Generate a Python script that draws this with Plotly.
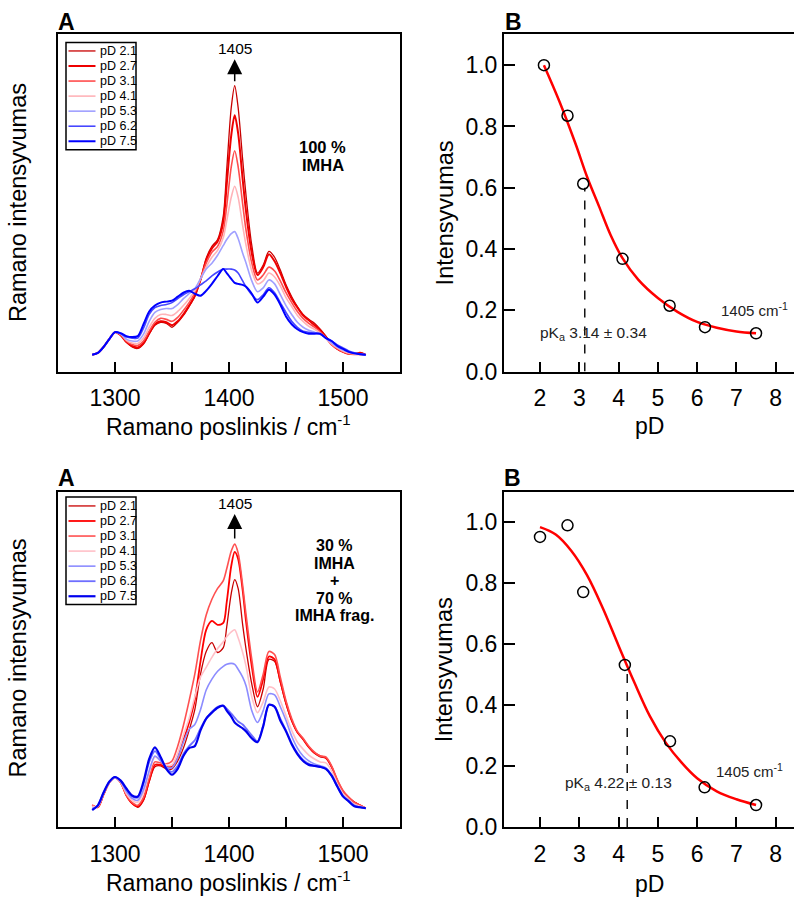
import plotly.graph_objects as go

# ---------------- DATA ----------------
WN = [1280, 1285, 1290, 1295, 1300, 1305, 1310, 1315, 1320, 1325, 1330, 1335, 1340, 1345, 1350,
      1355, 1360, 1365, 1370, 1375, 1380, 1385, 1390, 1395, 1398, 1402, 1405, 1408, 1412, 1415,
      1420, 1425, 1430, 1435, 1440, 1445, 1450, 1455, 1460, 1465, 1470, 1475, 1480, 1485, 1490,
      1495, 1500, 1505, 1510, 1515, 1520]

LABELS = ["pD 2.1", "pD 2.7", "pD 3.1", "pD 4.1", "pD 5.3", "pD 6.2", "pD 7.5"]
SPEC_TICKS = [1300, 1400, 1500]
PD_TICKS = [2, 3, 4, 5, 6, 7, 8]
INT_TICKS = [0, 0.2, 0.4, 0.6, 0.8, 1.0]

# Top panel (100 % IMHA), arbitrary intensity units
top_21 = [17, 19, 25, 33, 40, 37, 30, 25, 23.5, 28, 38, 47, 50, 49, 45, 50, 57, 66, 76, 93, 115, 127, 134, 158,
          205, 268, 290, 268, 215, 178, 128, 100, 108, 122, 116, 103, 88, 76, 66, 58, 53, 49, 43, 36, 28, 23, 20, 18, 18, 19, 17]
top_27 = [17, 19, 25, 33, 40, 37, 30, 26, 24.5, 29, 39, 48, 51, 50, 47, 51, 58, 67, 77, 93, 113, 125, 132, 152,
          190, 240, 260, 242, 195, 162, 120, 98, 106, 119, 112, 100, 86, 74, 65, 57, 52, 47, 42, 35, 28, 23, 20, 18, 18, 19, 17]
top_31 = [17, 19, 25, 33, 40, 37.5, 31, 27.5, 26.5, 31, 41, 50, 54, 53, 51, 55, 62, 70, 80, 94, 110, 121, 127, 143,
          168, 208, 224, 208, 170, 143, 110, 93, 98, 106, 102, 92, 80, 70, 61, 54, 49, 45, 40, 34, 27, 23, 20, 18, 17.5, 17.5, 17]
top_41 = [17, 19, 25, 33, 40, 38, 32, 29, 28.5, 34, 45, 54, 58, 58, 57, 61, 67, 74, 82, 94, 106, 116, 123, 136,
          153, 177, 188, 177, 148, 128, 102, 89, 92, 100, 96, 87, 75, 66, 57, 51, 46, 43, 39, 34, 28, 24, 21, 19, 18, 17.5, 17]
top_53 = [17, 19, 25, 33, 40, 38, 33, 31, 31, 38, 51, 60, 63, 64, 64, 68, 74, 79, 84, 94, 104, 110, 118, 128,
          134, 140, 142, 135, 120, 110, 92, 81, 85, 93, 89, 78, 67, 58, 50, 45, 42, 40, 38, 34, 29, 25, 22, 20, 18.5, 17.5, 17]
top_62 = [17, 19, 25, 33, 40, 38.5, 35, 34, 34, 44, 58, 65, 67, 68, 70, 74, 78, 81, 84, 88, 92, 97, 101, 104,
          104, 104, 103, 100, 92, 86, 78, 73, 78, 85, 80, 70, 60, 51, 45, 41, 40, 39, 38, 34, 31, 27, 24, 21, 19, 18, 17]
top_75 = [17, 19, 25, 33, 40, 39, 36, 35, 36, 48, 61, 67, 70, 71, 72, 76, 80, 82, 79, 77, 82, 89, 97, 104,
          100, 94, 90, 89, 88, 86, 79, 70, 76, 83, 78, 68, 56, 48, 43, 40, 38.5, 38.5, 38.5, 34, 31, 26, 23, 20, 18.5, 17.5, 17]

# Bottom panel (30 % IMHA + 70 % IMHA frag.)
bot_21 = [22, 20, 33, 45, 50, 45, 32, 24, 20, 27, 46, 61, 62, 59, 59, 67, 80, 98, 119, 155, 178, 187, 177, 182,
          203, 237, 251, 242, 205, 180, 145, 122, 140, 170, 168, 147, 125, 108, 96, 89, 81, 75, 71, 70, 61, 47, 36, 29, 25, 22, 19]
bot_27 = [22, 20, 33, 45, 50, 45, 32, 24, 21, 28, 47, 63, 63, 61, 61, 70, 88, 106, 129, 168, 200, 209, 205, 207,
          228, 265, 279, 272, 240, 208, 163, 132, 150, 173, 170, 148, 126, 108, 96, 89, 81, 75, 72, 70, 61, 47, 36, 30, 25, 22, 19]
bot_31 = [22, 20, 33, 45, 50, 45, 32, 25, 22, 30, 50, 66, 65, 64, 67, 82, 103, 128, 155, 189, 215, 231, 242, 250,
          262, 280, 287, 278, 245, 215, 170, 137, 155, 178, 175, 152, 128, 110, 97, 90, 82, 76, 72, 71, 62, 48, 37, 30, 25, 22, 19]
bot_41 = [21, 21, 34, 45, 50, 45, 34, 27, 25, 35, 55, 71, 67, 63, 63, 75, 93, 110, 132, 152, 162, 172, 181, 188,
          193, 198, 200, 192, 177, 163, 132, 116, 127, 142, 140, 128, 113, 98, 86, 79, 73, 69, 66, 65, 57, 44, 34, 28, 23, 21, 19]
bot_53 = [19, 21, 34, 45, 50, 46, 36, 29, 27, 38, 57, 72, 67, 61, 60, 70, 86, 99, 104, 119, 139, 150, 158, 163,
          165, 166, 165, 160, 152, 143, 118, 106, 118, 135, 134, 122, 108, 92, 80, 72, 67, 64, 62, 60, 53, 42, 32, 27, 22, 20, 19]
bot_62 = [18, 22, 35, 46, 50.5, 47, 38, 31, 30, 44, 66, 77, 69, 60, 56, 62, 74, 82, 88, 100, 110, 117, 122, 123,
          120, 115, 111, 107, 104, 100, 93, 87, 103, 124, 122, 110, 98, 85, 75, 68, 64, 62, 61, 59, 52, 41, 31, 26, 21, 20, 19]
bot_75 = [17, 22, 35, 46, 50.7, 47, 39, 32, 31, 46, 69, 80.7, 71, 59, 53, 59, 72, 80, 82, 98, 110, 116, 121, 123,
          118, 112, 106, 103, 100, 97, 90, 86, 102, 124, 122, 108, 97, 84, 74, 67, 63, 62, 61, 59, 52, 41, 31, 26, 21, 20, 19]

# B panels: intensity of the 1405 cm-1 band vs pD
pd_top = [2.1, 2.7, 3.1, 4.1, 5.3, 6.2, 7.5]
int_top = [1.0, 0.835, 0.613, 0.368, 0.215, 0.145, 0.125]
fit_top_x = [2.1, 2.5, 2.9, 3.2, 3.5, 3.8, 4.1, 4.5, 5.0, 5.5, 6.0, 6.5, 7.0, 7.5]
fit_top_y = [1.0, 0.88, 0.745, 0.635, 0.54, 0.445, 0.37, 0.30, 0.24, 0.195, 0.162, 0.143, 0.131, 0.125]
pka_top = 3.14
pka_top_y = 0.60

pd_bot = [2.0, 2.7, 3.1, 4.16, 5.31, 6.19, 7.5]
int_bot = [0.952, 0.99, 0.771, 0.532, 0.281, 0.130, 0.072]
fit_bot_x = [2.0, 2.4, 2.8, 3.2, 3.6, 4.0, 4.4, 4.8, 5.2, 5.6, 6.0, 6.5, 7.0, 7.5]
fit_bot_y = [0.984, 0.96, 0.906, 0.826, 0.718, 0.595, 0.475, 0.363, 0.277, 0.212, 0.16, 0.117, 0.091, 0.072]
pka_bot = 4.22
pka_bot_y = 0.51

# ---------------- STYLE ----------------
FONT = "Liberation Sans, Arial, sans-serif"
TOP_COLORS = ["#c80000", "#ee0000", "#ff4d4d", "#ffb3b8", "#a0a0ff", "#4646ff", "#0000ff"]
TOP_WIDTHS = [1.3, 2.0, 1.6, 1.6, 1.6, 1.6, 2.0]
BOT_COLORS = ["#c80000", "#ff0000", "#ff5050", "#ffc0c8", "#8c8cff", "#6e6eff", "#0000ee"]
BOT_WIDTHS = [1.3, 1.8, 1.6, 1.6, 1.6, 1.8, 2.2]

W, H = 794, 907


def PX(x):
    return x / W


def PY(y):
    return 1 - y / H


fig = go.Figure()

top_series = [top_21, top_27, top_31, top_41, top_53, top_62, top_75]
bot_series = [bot_21, bot_27, bot_31, bot_41, bot_53, bot_62, bot_75]

for lab, ys, c, w in zip(LABELS, top_series, TOP_COLORS, TOP_WIDTHS):
    fig.add_trace(go.Scatter(x=WN, y=ys, mode="lines", name=lab, line=dict(color=c, width=w, shape="spline", smoothing=0.8),
                             xaxis="x", yaxis="y", showlegend=False))
for lab, ys, c, w in zip(LABELS, bot_series, BOT_COLORS, BOT_WIDTHS):
    fig.add_trace(go.Scatter(x=WN, y=ys, mode="lines", name=lab, line=dict(color=c, width=w, shape="spline", smoothing=0.8),
                             xaxis="x3", yaxis="y3", showlegend=False))

# B panels
for xa, ya, fx, fy, px_, iy, pk, pky in [("x2", "y2", fit_top_x, fit_top_y, pd_top, int_top, pka_top, pka_top_y),
                                        ("x4", "y4", fit_bot_x, fit_bot_y, pd_bot, int_bot, pka_bot, pka_bot_y)]:
    fig.add_trace(go.Scatter(x=[pk, pk], y=[0, pky], mode="lines", line=dict(color="black", width=1.4, dash="dash"),
                             xaxis=xa, yaxis=ya, showlegend=False))
    fig.add_trace(go.Scatter(x=fx, y=fy, mode="lines", line=dict(color="#ff0000", width=2.5, shape="spline", smoothing=1.0),
                             xaxis=xa, yaxis=ya, showlegend=False))
    fig.add_trace(go.Scatter(x=px_, y=iy, mode="markers",
                             marker=dict(symbol="circle-open", size=11, color="black", line=dict(width=1.5)),
                             xaxis=xa, yaxis=ya, showlegend=False))

# axes
dom_left = [PX(58), PX(400)]
dom_right = [PX(504), 1.0]
dom_top = [PY(377), PY(35)]
dom_bot = [PY(839), PY(499)]

spec_x = dict(range=[1250, 1550], tickvals=SPEC_TICKS,
              ticks="inside", ticklen=10, tickwidth=2, tickcolor="black", showline=True, linewidth=2, linecolor="black",
              minor=dict(ticks="inside", ticklen=10, tickwidth=2, tickcolor="black", tick0=1300, dtick=50, showgrid=False),
              mirror=True, showgrid=False, zeroline=False, ticklabelstandoff=5,
              tickfont=dict(family=FONT, size=23, color="black"))
spec_y = dict(showticklabels=False, ticks="", showline=True, linewidth=2, linecolor="black", mirror=True,
              showgrid=False, zeroline=False)
b_x = dict(range=[1.0835, 8.466], tickvals=PD_TICKS, ticks="inside", ticklen=10, tickwidth=2,
           tickcolor="black", showline=True, linewidth=2, linecolor="black", mirror=True, showgrid=False,
           zeroline=False, ticklabelstandoff=5, tickfont=dict(family=FONT, size=23, color="black"))
b_y = dict(range=[0, 1.1], tickvals=INT_TICKS, tickformat=".1f", ticks="inside", ticklen=11,
           tickwidth=2, tickcolor="black", showline=True, linewidth=2, linecolor="black", mirror=False,
           showgrid=False, zeroline=False, tickfont=dict(family=FONT, size=23, color="black"))

fig.update_layout(
    width=W, height=H, margin=dict(l=0, r=0, t=0, b=0), paper_bgcolor="white", plot_bgcolor="white",
    font=dict(family=FONT, color="black"),
    xaxis=dict(domain=dom_left, anchor="y", **spec_x), yaxis=dict(domain=dom_top, anchor="x", range=[0, 342], **spec_y),
    xaxis2=dict(domain=dom_right, anchor="y2", **b_x), yaxis2=dict(domain=dom_top, anchor="x2", **b_y),
    xaxis3=dict(domain=dom_left, anchor="y3", **spec_x), yaxis3=dict(domain=dom_bot, anchor="x3", range=[0, 340], **spec_y),
    xaxis4=dict(domain=dom_right, anchor="y4", **b_x), yaxis4=dict(domain=dom_bot, anchor="x4", **b_y),
)

ann = []
shapes = []


def text(x, y, t, size, bold=False, color="black", angle=0, xanchor="center"):
    ann.append(dict(x=PX(x), y=PY(y), xref="paper", yref="paper", text=("<b>%s</b>" % t) if bold else t,
                    showarrow=False, font=dict(family=FONT, size=size, color=color), textangle=angle,
                    xanchor=xanchor, yanchor="middle"))


# panel letters
text(66, 22.5, "A", 23, bold=True)
text(513, 22.5, "B", 23, bold=True)
text(66.5, 484.5, "A", 23, bold=True)
text(512, 484.5, "B", 23, bold=True)

# axis titles
XTITLE = "Ramano poslinkis / cm<sup><span style='font-size:15px'>-1</span></sup>"
text(18, 206, "Ramano intensyvumas", 23.5, angle=-90)
text(18, 668, "Ramano intensyvumas", 23.5, angle=-90)
text(229, 432, XTITLE, 23)
text(229, 894, XTITLE, 23)
text(445, 216.5, "Intensyvumas", 23.5, angle=-90)
text(444, 680, "Intensyvumas", 23.5, angle=-90)
text(649, 432, "pD", 23)
text(649, 897, "pD", 23)

# 1405 labels with arrows pointing at the band (arrow drawn from the label)
for xr, ylab, ytip, ytail in [("x", 49.5, 60, 84), ("x3", 511, 521.5, 548)]:
    text(235, ylab, "1405", 15.5)
    ann.append(dict(x=1405, y=PY(ytip), xref=xr, yref="paper", ax=0, ay=ytail - ytip,
                    axref="pixel", ayref="pixel", showarrow=True, arrowhead=2, arrowsize=2.0, arrowwidth=1.5,
                    arrowcolor="black", text=" ", font=dict(size=1)))

# sample labels
text(322.5, 149, "100 %", 16.5, bold=True)
text(322.5, 167.5, "IMHA", 16.5, bold=True)
for i, t in enumerate(["30 %", "IMHA", "+", "70 %", "IMHA frag."]):
    text(334, 553.3 + i * 17.9, t, 16, bold=True)

# B panel texts
text(593.5, 338.5, "pK<sub>a</sub> 3.14 ± 0.34", 15.5, color="#222222")
text(754.5, 313.5, "1405 cm<sup>-1</sup>", 15, color="#222222")
text(618, 794.5, "pK<sub>a</sub> 4.22 ± 0.13", 15.5, color="#222222")
text(749, 781.5, "1405 cm<sup>-1</sup>", 15, color="#222222")

# manual legends
for top, colors, widths, y0 in [(43, TOP_COLORS, TOP_WIDTHS, 51.7), (504.3, BOT_COLORS, BOT_WIDTHS, 513.3)]:
    shapes.append(dict(type="rect", xref="paper", yref="paper", x0=PX(66), x1=PX(136), y0=PY(top), y1=PY(top + 109),
                       line=dict(color="black", width=1.5), fillcolor="white", layer="above"))
    for i, (lab, c, w) in enumerate(zip(LABELS, colors, widths)):
        yy = y0 + i * 15.27
        shapes.append(dict(type="line", xref="paper", yref="paper", x0=PX(68.5), x1=PX(95.5), y0=PY(yy), y1=PY(yy),
                           line=dict(color=c, width=w), layer="above"))
        text(97.5, yy, lab, 12.5, xanchor="left")

fig.update_layout(annotations=ann, shapes=shapes)
fig.write_html("out.html")
